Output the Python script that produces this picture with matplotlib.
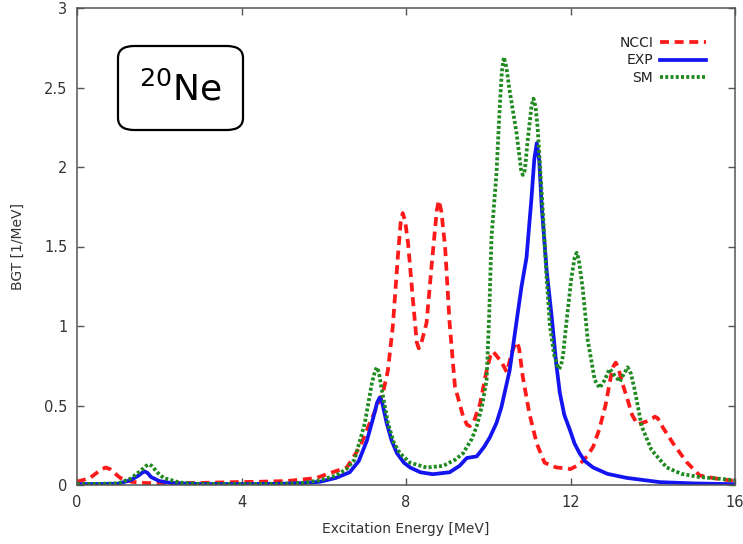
import matplotlib
matplotlib.use("Agg")
import matplotlib.pyplot as plt
from matplotlib.patches import FancyBboxPatch

# ---- data ----
ncci_e = [0.0, 0.32, 0.6, 0.7, 0.8, 1.05, 1.33, 1.7, 2.2, 3.0, 3.8, 4.37, 5.1, 5.5, 5.83, 6.15,
          6.56, 6.88, 7.12, 7.29, 7.44, 7.56, 7.68, 7.8, 7.87, 7.92, 7.98, 8.05, 8.17, 8.26,
          8.31, 8.37, 8.5, 8.63, 8.75, 8.8, 8.86, 8.95, 9.06, 9.19, 9.39, 9.48, 9.55, 9.65,
          9.8, 9.96, 10.05, 10.11, 10.18, 10.33, 10.45, 10.57, 10.64, 10.69, 10.75, 10.84,
          11.0, 11.18, 11.37, 11.66, 11.9, 12.0, 12.22, 12.4, 12.55, 12.7, 12.85, 12.98,
          13.05, 13.1, 13.16, 13.26, 13.36, 13.5, 13.63, 13.85, 14.0, 14.05, 14.12, 14.25,
          14.5, 14.82, 15.14, 15.55, 16.0]
ncci_b = [0.02, 0.045, 0.1, 0.11, 0.1, 0.045, 0.02, 0.012, 0.012, 0.013, 0.018, 0.02, 0.025,
          0.035, 0.045, 0.075, 0.11, 0.24, 0.39, 0.49, 0.58, 0.72, 1.0, 1.43, 1.65, 1.71, 1.66,
          1.52, 1.16, 0.9, 0.86, 0.89, 1.02, 1.4, 1.73, 1.79, 1.72, 1.5, 1.02, 0.62, 0.43,
          0.38, 0.37, 0.4, 0.51, 0.72, 0.81, 0.84, 0.82, 0.77, 0.71, 0.83, 0.88, 0.9, 0.86,
          0.68, 0.45, 0.26, 0.14, 0.11, 0.105, 0.10, 0.13, 0.18, 0.24, 0.35, 0.5, 0.68, 0.75,
          0.77, 0.74, 0.64, 0.56, 0.44, 0.38, 0.4, 0.42, 0.43, 0.42, 0.36, 0.26, 0.145, 0.06,
          0.04, 0.025]

exp_e = [0.0, 1.0, 1.3, 1.5, 1.6, 1.65, 1.72, 1.8, 2.0, 2.3, 3.0, 4.0, 5.0, 5.5, 5.9, 6.3,
         6.63, 6.85, 7.05, 7.2, 7.3, 7.36, 7.41, 7.47, 7.53, 7.65, 7.78, 7.95, 8.1, 8.35,
         8.65, 9.06, 9.3, 9.48, 9.72, 9.9, 10.04, 10.2, 10.32, 10.52, 10.7, 10.81, 10.93,
         11.05, 11.12, 11.18, 11.24, 11.3, 11.42, 11.55, 11.65, 11.74, 11.85, 11.98, 12.1,
         12.22, 12.35, 12.55, 12.9, 13.36, 14.17, 15.0, 16.0]
exp_b = [0.005, 0.008, 0.03, 0.06, 0.08, 0.085, 0.075, 0.05, 0.025, 0.012, 0.006, 0.006,
         0.008, 0.012, 0.02, 0.045, 0.08, 0.15, 0.28, 0.42, 0.52, 0.55, 0.53, 0.46, 0.39,
         0.28, 0.2, 0.14, 0.11, 0.08, 0.068, 0.08, 0.12, 0.17, 0.18, 0.24, 0.3, 0.39, 0.49,
         0.72, 1.05, 1.25, 1.43, 1.8, 2.05, 2.15, 2.04, 1.75, 1.35, 1.04, 0.77, 0.58, 0.44,
         0.35, 0.26, 0.2, 0.15, 0.11, 0.07, 0.045, 0.018, 0.01, 0.005]

sm_e = [0.0, 1.0, 1.3, 1.55, 1.68, 1.75, 1.82, 1.95, 2.1, 2.5, 3.0, 4.0, 5.0, 5.5, 5.9, 6.3,
        6.55, 6.75, 7.0, 7.17, 7.24, 7.29, 7.34, 7.41, 7.56, 7.7, 7.85, 8.1, 8.5, 8.9, 9.2,
        9.39, 9.6, 9.72, 9.85, 9.96, 10.02, 10.08, 10.2, 10.28, 10.33, 10.38, 10.44, 10.52,
        10.69, 10.8, 10.84, 10.89, 10.96, 11.05, 11.1, 11.15, 11.2, 11.32, 11.42, 11.5,
        11.6, 11.68, 11.72, 11.77, 11.82, 11.9, 12.02, 12.1, 12.15, 12.2, 12.3, 12.42, 12.59,
        12.71, 12.83, 12.95, 13.07, 13.2, 13.3, 13.39, 13.47, 13.56, 13.73, 13.97, 14.34,
        14.7, 15.14, 15.6, 16.0]
sm_b = [0.005, 0.01, 0.04, 0.09, 0.12, 0.13, 0.12, 0.08, 0.045, 0.015, 0.007, 0.006, 0.008,
        0.013, 0.03, 0.06, 0.1, 0.16, 0.39, 0.64, 0.71, 0.74, 0.71, 0.6, 0.39, 0.27, 0.2,
        0.14, 0.11, 0.12, 0.16, 0.2, 0.29, 0.37, 0.5, 0.66, 1.05, 1.56, 1.96, 2.38, 2.6,
        2.69, 2.63, 2.48, 2.21, 1.98, 1.95, 1.98, 2.17, 2.38, 2.43, 2.38, 2.25, 1.75, 1.3,
        1.0, 0.82, 0.75, 0.73, 0.75, 0.82, 1.02, 1.3, 1.43, 1.46, 1.42, 1.23, 0.91, 0.66,
        0.61, 0.66, 0.73, 0.69, 0.65, 0.7, 0.74, 0.7, 0.6, 0.37, 0.22, 0.11, 0.07, 0.05,
        0.04, 0.03]

labels = ["NCCI", "EXP", "SM"]
x_ticks = [0, 4, 8, 12, 16]
y_ticks = [0, 0.5, 1, 1.5, 2, 2.5, 3]
y_tick_labels = ["0", "0.5", "1", "1.5", "2", "2.5", "3"]

# ---- figure ----
W, H = 743, 544
fig = plt.figure(figsize=(W / 100, H / 100), dpi=100)
ax = fig.add_axes([77 / W, 1 - 485 / H, (735 - 77) / W, (485 - 8) / H])

red = "#ff1a1a"
blue = "#1414f0"
green = "#1f8a1f"
lw = 2.7

ax.plot(ncci_e, ncci_b, color=red, lw=lw, linestyle=(0, (2.4, 1.5)), label=labels[0],
        dash_joinstyle="round")
ax.plot(exp_e, exp_b, color=blue, lw=lw, label=labels[1], solid_joinstyle="round")
ax.plot(sm_e, sm_b, color=green, lw=lw, linestyle=(0, (0.8, 0.6)), label=labels[2],
        dash_joinstyle="round")

ax.set_xlim(0, 16)
ax.set_ylim(0, 3)
ax.set_xticks(x_ticks)
ax.set_xticklabels([str(t) for t in x_ticks])
ax.set_yticks(y_ticks)
ax.set_yticklabels(y_tick_labels)

spine_c = "#555555"
for s in ax.spines.values():
    s.set_color(spine_c)
    s.set_linewidth(1.1)
ax.tick_params(direction="in", length=5, width=1, color=spine_c, top=True, right=True,
               labelsize=10.5, labelcolor="#333333")
ax.tick_params(axis="x", pad=7)
ax.tick_params(axis="y", pad=7)

ax.set_xlabel("Excitation Energy [MeV]", fontsize=10, color="#333333", labelpad=9)
ax.set_ylabel("BGT [1/MeV]", fontsize=10, color="#333333", labelpad=14)

leg = ax.legend(loc="upper right", bbox_to_anchor=(706 / W, 1 - 36 / H),
                bbox_transform=fig.transFigure, frameon=False, markerfirst=False,
                handlelength=3.3, handletextpad=0.5, labelspacing=0.25, borderpad=0,
                borderaxespad=0, fontsize=10)
for t in leg.get_texts():
    t.set_color("#222222")

# label box
x0, y0, x1, y1 = 118, 46, 243, 130
box = FancyBboxPatch((x0 / W, 1 - y1 / H), (x1 - x0) / W, (y1 - y0) / H,
                     boxstyle="round,pad=0,rounding_size=0.022", transform=fig.transFigure,
                     facecolor="white", edgecolor="black", linewidth=1.6, zorder=5)
fig.patches.append(box)
fig.text(((x0 + x1) / 2) / W, 1 - 89 / H, r"$^{20}$Ne", fontsize=26, ha="center",
         va="center", zorder=6)

fig.savefig("out.png", dpi=100)
